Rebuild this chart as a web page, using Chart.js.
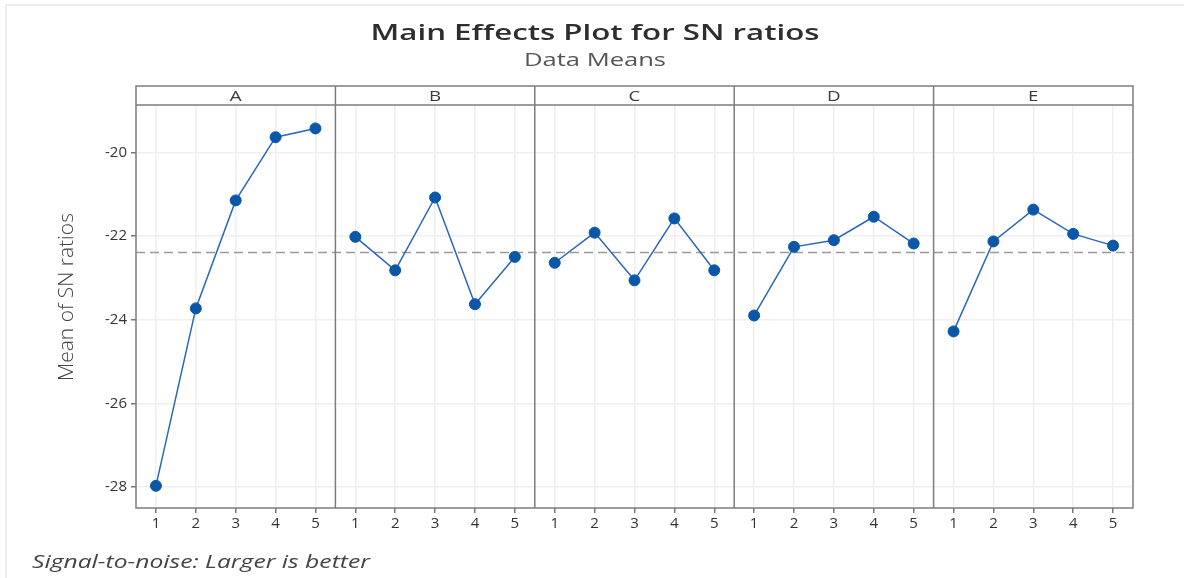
<!DOCTYPE html>
<html>
<head>
<meta charset="utf-8">
<script src="https://cdn.jsdelivr.net/npm/chart.js@4.4.0/dist/chart.umd.min.js"></script>
<style>
  body { margin: 0; background: #fff; }
  #wrap { position: relative; width: 1184px; height: 578px; }
</style>
</head>
<body>
<div id="wrap"><canvas id="mainEffects" width="1184" height="578"></canvas></div>
<script>
const factors = ['A', 'B', 'C', 'D', 'E'];
const levels = [1, 2, 3, 4, 5];
const meanA = [-27.97, -23.73, -21.15, -19.64, -19.43];
const meanB = [-22.02, -22.82, -21.08, -23.63, -22.50];
const meanC = [-22.64, -21.92, -23.06, -21.58, -22.82];
const meanD = [-23.90, -22.26, -22.10, -21.54, -22.18];
const meanE = [-24.28, -22.13, -21.37, -21.95, -22.23];
const yTicks = [-28, -26, -24, -22, -20];

const allMeans = [meanA, meanB, meanC, meanD, meanE];
const grandMean = allMeans.flat().reduce((s, v) => s + v, 0) / allMeans.flat().length;
const nLev = levels.length;
const xMax = factors.length * nLev + 0.5;

const blue = '#0a57a8';

const datasets = allMeans.map((vals, i) => ({
  label: factors[i],
  data: vals.map((v, j) => ({ x: i * nLev + levels[j], y: v })),
  borderColor: '#2a66be',
  borderWidth: 1.5,
  backgroundColor: blue,
  pointBackgroundColor: blue,
  pointBorderColor: blue,
  pointRadius: 5.5,
  pointBorderWidth: 1,
  tension: 0
}));

// overall mean reference line
datasets.push({
  label: 'mean',
  data: [{ x: 0.5, y: grandMean }, { x: xMax, y: grandMean }],
  borderColor: '#9a9a9a',
  borderWidth: 1.5,
  borderDash: [9, 5],
  pointRadius: 0
});

// text drawn a bit wider than the font, like the original export
function wideText(ctx, text, x, y, font, stretch, align) {
  ctx.save();
  ctx.font = font;
  ctx.textAlign = align || 'center';
  ctx.textBaseline = 'middle';
  ctx.translate(x, y);
  ctx.scale(stretch, 1);
  ctx.fillText(text, 0, 0);
  ctx.restore();
}

// panel strips, dividers, frame, titles
const panels = {
  id: 'panels',
  afterDraw(chart) {
    const ctx = chart.ctx;
    const a = chart.chartArea;
    const xs = chart.scales.x;
    const stripTop = 86;
    ctx.save();
    // light outer border
    ctx.strokeStyle = '#e6e6e6';
    ctx.lineWidth = 1.5;
    ctx.beginPath();
    ctx.moveTo(6, 578); ctx.lineTo(6, 5); ctx.lineTo(1184, 5);
    ctx.stroke();

    ctx.strokeStyle = '#7d7d7d';
    ctx.lineWidth = 1.5;
    ctx.strokeRect(a.left, stripTop, a.right - a.left, a.bottom - stripTop);
    ctx.beginPath();
    ctx.moveTo(a.left, a.top); ctx.lineTo(a.right, a.top);
    for (let i = 1; i < factors.length; i++) {
      const px = xs.getPixelForValue(i * nLev + 0.5);
      ctx.moveTo(px, stripTop); ctx.lineTo(px, a.bottom);
    }
    ctx.stroke();

    ctx.fillStyle = '#3a3a3a';
    factors.forEach((f, i) => {
      const l = xs.getPixelForValue(i * nLev + 0.5);
      const r = xs.getPixelForValue((i + 1) * nLev + 0.5);
      wideText(ctx, f, (l + r) / 2, 97, '15px "Open Sans"', 1.25);
    });

    ctx.fillStyle = '#2e2e2e';
    wideText(ctx, 'Main Effects Plot for SN ratios', 595, 34, '600 22px "Open Sans"', 1.42);
    ctx.fillStyle = '#555';
    wideText(ctx, 'Data Means', 595, 61, '18px "Open Sans"', 1.42);

    ctx.fillStyle = '#444';
    wideText(ctx, 'Signal-to-noise: Larger is better', 32, 563, 'italic 18px "Open Sans"', 1.37, 'left');

    // y axis title
    ctx.save();
    ctx.fillStyle = '#444';
    ctx.font = '300 21px "Open Sans"';
    ctx.textAlign = 'center';
    ctx.textBaseline = 'middle';
    ctx.translate(67, 297);
    ctx.rotate(-Math.PI / 2);
    ctx.fillText('Mean of SN ratios', 0, 0);
    ctx.restore();
    ctx.restore();
  }
};

new Chart(document.getElementById('mainEffects'), {
  type: 'line',
  data: { datasets: datasets },
  options: {
    responsive: false,
    animation: false,
    layout: { padding: { top: 105, right: 51, left: 0, bottom: 0 } },
    plugins: { legend: { display: false }, tooltip: { enabled: false } },
    scales: {
      x: {
        type: 'linear',
        min: 0.5,
        max: xMax,
        afterFit(s) { s.height = 70; },
        afterBuildTicks(s) {
          const t = [];
          for (let v = 0.5; v <= xMax; v += 0.5) t.push({ value: v });
          s.ticks = t;
        },
        border: { display: false },
        grid: {
          color: c => Number.isInteger(c.tick.value) ? '#efefef' : 'transparent',
          tickColor: c => Number.isInteger(c.tick.value) ? '#777' : 'transparent',
          tickLength: 5,
          lineWidth: 1.5
        },
        ticks: {
          autoSkip: false,
          maxRotation: 0,
          padding: 2,
          color: '#333',
          font: { family: 'Open Sans', size: 15 },
          callback: v => Number.isInteger(v) ? String(((v - 1) % nLev) + 1) : ''
        }
      },
      y: {
        min: -28.5,
        max: -18.87,
        afterFit(s) { s.width = 136; },
        afterBuildTicks(s) { s.ticks = yTicks.map(v => ({ value: v })); },
        border: { display: false },
        grid: { color: '#efefef', tickColor: '#777', tickLength: 5, lineWidth: 1.5 },
        ticks: {
          padding: 4,
          color: '#333',
          font: { family: 'Open Sans', size: 15 }
        }
      }
    }
  },
  plugins: [panels]
});
</script>
</body>
</html>
